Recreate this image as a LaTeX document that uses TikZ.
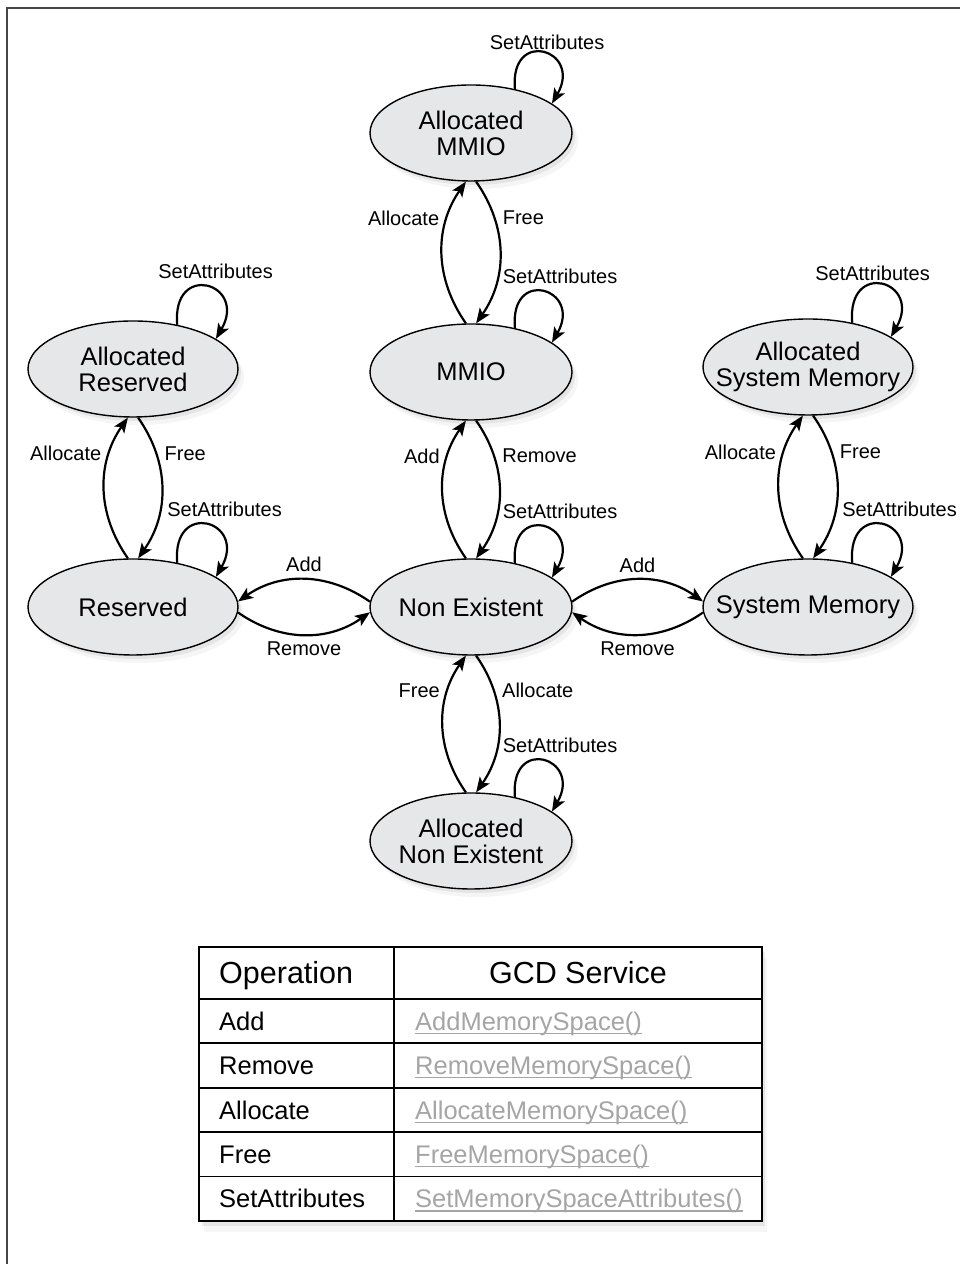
\documentclass[tikz,border=0pt]{standalone}
\usepackage{fontspec}
\setmainfont{Liberation Sans}
\usetikzlibrary{arrows.meta, positioning, shapes.geometric, shadows}
\definecolor{statefill}{RGB}{230,231,233}
\definecolor{linkgray}{RGB}{165,165,165}
\definecolor{framegray}{RGB}{70,70,70}

\tikzset{
  state/.style={ellipse, draw=black, line width=1.4pt, fill=statefill,
    minimum width=202pt, minimum height=96pt, inner sep=0pt,
    drop shadow={opacity=.14, shadow xshift=3pt, shadow yshift=-4pt},
    drop shadow={opacity=.08, shadow xshift=6pt, shadow yshift=-8pt}},
  widestate/.style={minimum width=210pt},
  statetext/.style={font=\fontsize{25.5}{26}\selectfont, align=center},
  trans/.style={-{Stealth[length=15pt, width=12pt, inset=3.5pt]}, line width=2.2pt},
  lbl/.style={font=\fontsize{20}{24}\selectfont},
  looplbl/.style={lbl, above, yshift=4pt},
  cell/.style={font=\fontsize{25.5}{28}\selectfont, inner sep=0pt},
  hdr/.style={font=\fontsize{30.5}{34}\selectfont, inner sep=0pt},
  link/.style={cell, text=linkgray},
}

\begin{document}
\begin{tikzpicture}[x=1pt, y=1pt]
  \useasboundingbox (0,0) rectangle (960,1264);
  \draw[framegray, line width=2pt] (7,0) -- (7,1256) -- (960,1256);

  % States
  \node[state, label={[statetext]center:{Allocated\\MMIO}}] (amm) at (471,1131) {};
  \node[state, label={[statetext]center:MMIO}] (mmio) at (471,892) {};
  \node[state, label={[statetext]center:Non Existent}] (ne) at (471,657) {};
  \node[state, label={[statetext]center:{Allocated\\Non Existent}}] (ane) at (471,423) {};
  \node[state, widestate, label={[statetext]center:{Allocated\\Reserved}}] (ares) at (133,895) {};
  \node[state, widestate, label={[statetext]center:Reserved}] (res) at (133,657) {};
  \node[state, widestate, label={[statetext]center:{Allocated\\System Memory}}] (asm) at (808,897) {};
  \node[state, widestate, label={[statetext]center:System Memory}] (sm) at (808,657) {};

  % Vertical pairs
  \draw[trans] (mmio.96) to[bend left=35] node[lbl, pos=.74, left=4pt] {Allocate} (amm.264);
  \draw[trans] (amm.276) to[bend left=35] node[lbl, pos=.26, right=4pt] {Free} (mmio.84);
  \draw[trans] (ne.96) to[bend left=35] node[lbl, pos=.74, left=4pt] {Add} (mmio.264);
  \draw[trans] (mmio.276) to[bend left=35] node[lbl, pos=.26, right=4pt] {Remove} (ne.84);
  \draw[trans] (ane.96) to[bend left=35] node[lbl, pos=.74, left=4pt] {Free} (ne.264);
  \draw[trans] (ne.276) to[bend left=35] node[lbl, pos=.26, right=4pt] {Allocate} (ane.84);
  \draw[trans] (res.96) to[bend left=35] node[lbl, pos=.74, left=4pt] {Allocate} (ares.264);
  \draw[trans] (ares.276) to[bend left=35] node[lbl, pos=.26, right=4pt] {Free} (res.84);
  \draw[trans] (sm.96) to[bend left=35] node[lbl, pos=.74, left=4pt] {Allocate} (asm.264);
  \draw[trans] (asm.276) to[bend left=35] node[lbl, pos=.26, right=4pt] {Free} (sm.84);

  % Horizontal pairs
  \draw[trans] (ne.177) to[bend right=35] node[lbl, above=3pt] {Add} (res.3);
  \draw[trans] (res.-3) to[bend right=35] node[lbl, below=3pt] {Remove} (ne.183);
  \draw[trans] (ne.3) to[bend left=35] node[lbl, above=3pt] {Add} (sm.177);
  \draw[trans] (sm.183) to[bend left=35] node[lbl, below=3pt] {Remove} (ne.-3);

  % Self loops
  \draw[trans] (amm.45) to[out=95, in=60, looseness=4] node[looplbl, xshift=4pt, yshift=-5pt] {SetAttributes} (amm.20);
  \draw[trans] (mmio.45) to[out=95, in=60, looseness=4] node[looplbl, xshift=17pt] {SetAttributes} (mmio.20);
  \draw[trans] (ne.45) to[out=95, in=60, looseness=4] node[looplbl, xshift=17pt] {SetAttributes} (ne.20);
  \draw[trans] (ane.45) to[out=95, in=60, looseness=4] node[looplbl, xshift=17pt] {SetAttributes} (ane.20);
  \draw[trans] (ares.45) to[out=95, in=60, looseness=4] node[looplbl, xshift=9pt] {SetAttributes} (ares.20);
  \draw[trans] (res.45) to[out=95, in=60, looseness=4] node[looplbl, xshift=18pt] {SetAttributes} (res.20);
  \draw[trans] (asm.45) to[out=95, in=60, looseness=4] node[looplbl, xshift=-9pt, yshift=-4pt] {SetAttributes} (asm.20);
  \draw[trans] (sm.45) to[out=95, in=60, looseness=4] node[looplbl, xshift=18pt] {SetAttributes} (sm.20);

  % Table
  \draw[line width=1.8pt, fill=white,
    drop shadow={opacity=.14, shadow xshift=3pt, shadow yshift=-5pt},
    drop shadow={opacity=.07, shadow xshift=5pt, shadow yshift=-11pt}]
    (199,43) rectangle (762,317);
  \draw[line width=1.8pt] (199,265) -- (762,265);
  \draw[line width=1.8pt] (394,43) -- (394,317);
  \foreach \k in {1,...,4}
    \draw[line width=1.8pt] (199,{265-44.4*\k}) -- (762,{265-44.4*\k});
  \node[hdr, anchor=base west] (hop) at (219,280) {Operation};
  \node[hdr, anchor=base] (hsvc) at (578,280) {GCD Service};
  \foreach \op/\svc [count=\i] in {Add/AddMemorySpace(), Remove/RemoveMemorySpace(),
      Allocate/AllocateMemorySpace(), Free/FreeMemorySpace(),
      SetAttributes/SetMemorySpaceAttributes()} {
    \pgfmathsetmacro{\yb}{265-22.2-44.4*(\i-1)-9.2}
    \node[cell, anchor=base west] (op\i) at (219,\yb) {\op};
    \node[link, anchor=base west] (svc\i) at (415,\yb) {\svc};
    \draw[linkgray, line width=1.2pt] ([yshift=-3pt]svc\i.base west) -- ([yshift=-3pt]svc\i.base east);
  }
\end{tikzpicture}
\end{document}
